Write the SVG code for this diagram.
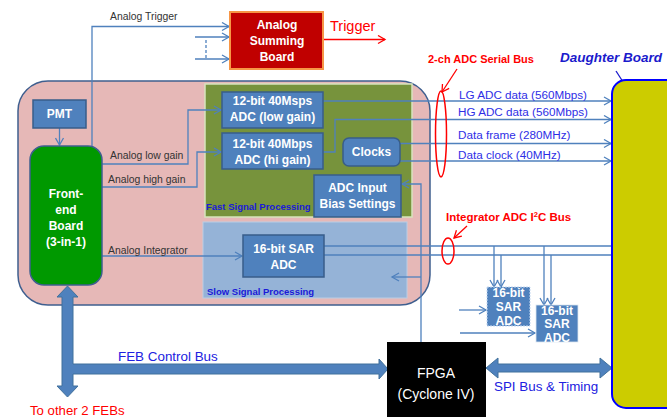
<svg xmlns="http://www.w3.org/2000/svg" width="667" height="417" viewBox="0 0 667 417">
<style>
text{font-family:"Liberation Sans",Arial,sans-serif}
.box{fill:#4f81bd;stroke:#385d8a;stroke-width:1.5}
.bt{fill:#fff;font-weight:bold;font-size:12px;text-anchor:middle}
.ln{fill:none;stroke:#4f81bd;stroke-width:1.3}
.lbl{fill:#333;font-size:10.4px}
.blu{fill:#2e2ee6;font-size:11.7px}
.red{fill:none;stroke:#ff0000;stroke-width:1.5}
.rt{fill:#ff0000}
.bus{fill:#4f81bd;stroke:#41719c;stroke-width:1}
</style>
<defs>
<marker id="a" markerUnits="userSpaceOnUse" markerWidth="10" markerHeight="10" refX="8" refY="5" orient="auto"><path d="M1,1 L8,5 L1,9" fill="none" stroke="#4f81bd" stroke-width="1.3"/></marker>
<marker id="ar" markerUnits="userSpaceOnUse" markerWidth="10" markerHeight="10" refX="8" refY="5" orient="auto"><path d="M1,1 L8,5 L1,9" fill="none" stroke="#ff0000" stroke-width="1.3"/></marker>
<marker id="ab" markerUnits="userSpaceOnUse" markerWidth="10" markerHeight="10" refX="8" refY="5" orient="auto"><path d="M1,1 L8,5 L1,9" fill="none" stroke="#1a1acc" stroke-width="1.3"/></marker>
</defs>

<g id="feb-module">
<rect x="18" y="81" width="412" height="224" rx="30" fill="#e6b8b7" stroke="#3f5f8f" stroke-width="1.5"/>
</g>
<g id="fast-panel">
<rect x="205" y="84" width="207" height="133" fill="#77933c" stroke="#d7e4bd" stroke-width="1.5"/>
<text x="206" y="210.4" font-size="9.5" font-weight="bold" fill="#1a1ad8">Fast Signal Processing</text>
</g>
<g id="slow-panel">
<rect x="203" y="222" width="204" height="76" fill="#95b3d7" stroke="#b9cde5" stroke-width="1"/>
<text x="207" y="295.4" font-size="9.5" font-weight="bold" fill="#1a1ad8">Slow Signal Processing</text>
</g>

<g id="connectors">
<polyline class="ln" points="92,146 92,26.5 229,26.5" marker-end="url(#a)"/>
<line class="ln" x1="195" y1="37" x2="229" y2="37" marker-end="url(#a)"/>
<line class="ln" x1="195" y1="59" x2="229" y2="59" marker-end="url(#a)"/>
<line class="ln" x1="206" y1="40" x2="206" y2="58" stroke-dasharray="3,2"/>
<line x1="323" y1="39.5" x2="385" y2="39.5" stroke="#ff0000" stroke-width="1.3" marker-end="url(#ar)"/>
<line class="ln" x1="59.5" y1="128" x2="59.5" y2="145" marker-end="url(#a)"/>
<polyline class="ln" points="102,164 188,164 188,110 221,110" marker-end="url(#a)"/>
<polyline class="ln" points="102,187 197,187 197,152 221,152" marker-end="url(#a)"/>
<line class="ln" x1="102" y1="256" x2="242" y2="256" marker-end="url(#a)"/>
<line class="ln" x1="323" y1="101" x2="611" y2="101" marker-end="url(#a)"/>
<polyline class="ln" points="323,152 335,152 335,119.5 611,119.5" marker-end="url(#a)"/>
<line class="ln" x1="400" y1="143.5" x2="611" y2="143.5" marker-end="url(#a)"/>
<line class="ln" x1="400" y1="161" x2="611" y2="161" marker-end="url(#a)"/>
<line class="ln" x1="324" y1="246" x2="612" y2="246"/>
<line class="ln" x1="324" y1="255" x2="612" y2="255"/>
<line class="ln" x1="494" y1="246" x2="494" y2="287" marker-end="url(#a)"/>
<line class="ln" x1="501" y1="255" x2="501" y2="287" marker-end="url(#a)"/>
<line class="ln" x1="544" y1="246" x2="544" y2="305" marker-end="url(#a)"/>
<line class="ln" x1="551" y1="255" x2="551" y2="305" marker-end="url(#a)"/>
<line class="ln" x1="459" y1="310" x2="486" y2="310" marker-end="url(#a)"/>
<line class="ln" x1="460" y1="333" x2="535" y2="333" marker-end="url(#a)"/>
<polyline class="ln" points="421,342 421,184 402,184" marker-end="url(#a)"/>
<line class="ln" x1="421" y1="277" x2="392" y2="277" marker-end="url(#a)"/>
<polygon class="bus" points="67.5,286 78,297 73,297 73,364 379,364 379,359 388,369 379,379 379,374 73,374 73,386 78,386 67.5,397 57,386 62,386 62,297 57,297"/>
<polygon class="bus" points="486,368 498,358 498,364 600,364 600,358 612,368 600,378 600,372 498,372 498,378"/>
<line x1="616" y1="71" x2="643" y2="113" stroke="#1a1acc" stroke-width="1.3" marker-end="url(#ab)"/>
<line x1="457" y1="69" x2="442" y2="92" stroke="#ff0000" stroke-width="1.3" marker-end="url(#ar)"/>
<line x1="467" y1="226" x2="454" y2="238" stroke="#ff0000" stroke-width="1.3" marker-end="url(#ar)"/>
<ellipse class="red" cx="441" cy="134" rx="5.5" ry="43"/>
<ellipse class="red" cx="448" cy="251" rx="6" ry="13"/>
<text class="lbl" x="110" y="19.6">Analog Trigger</text>
<text class="lbl" x="110" y="158.6">Analog low gain</text>
<text class="lbl" x="108" y="182.6">Analog high gain</text>
<text class="lbl" x="108" y="253.6">Analog Integrator</text>
<text class="blu" x="459" y="99">LG ADC data (560Mbps)</text>
<text class="blu" x="458" y="116">HG ADC data (560Mbps)</text>
<text class="blu" x="458" y="139">Data frame (280MHz)</text>
<text class="blu" x="458" y="159">Data clock (40MHz)</text>
<text class="rt" x="330" y="31" font-size="14.5">Trigger</text>
<text class="rt" x="428" y="63" font-size="11" font-weight="bold">2-ch ADC Serial Bus</text>
<text class="rt" x="446" y="221" font-size="11.5" font-weight="bold">Integrator ADC I<tspan font-size="7.5" dy="-4">2</tspan><tspan dy="4">C Bus</tspan></text>
<text x="118" y="361" font-size="13.4" fill="#2020e0">FEB Control Bus</text>
<text class="rt" x="30" y="415" font-size="13.2">To other 2 FEBs</text>
<text x="494" y="391" font-size="13.4" fill="#2020e0">SPI Bus &amp; Timing</text>
</g>

<g id="analog-summing-board">
<rect x="230" y="12" width="93" height="57" fill="#c00000" stroke="#f79646" stroke-width="2"/>
<text class="bt" x="277" y="29">Analog</text>
<text class="bt" x="277" y="45">Summing</text>
<text class="bt" x="277" y="61">Board</text>
</g>
<g id="pmt">
<rect class="box" x="33" y="100" width="53" height="28"/>
<text class="bt" x="59.5" y="118">PMT</text>
</g>
<g id="front-end-board">
<rect x="30" y="146" width="72" height="139" rx="14" fill="#009900" stroke="#3f5f8f" stroke-width="1.5"/>
<text class="bt" x="66" y="197.5" font-size="12.5">Front-</text>
<text class="bt" x="66" y="213.5" font-size="12.5">end</text>
<text class="bt" x="66" y="229.5" font-size="12.5">Board</text>
<text class="bt" x="66" y="245.5" font-size="12.5">(3-in-1)</text>
</g>
<g id="adc-low-gain">
<rect class="box" x="222" y="92" width="101" height="36"/>
<text class="bt" x="272.5" y="105.3">12-bit 40Msps</text>
<text class="bt" x="272.5" y="121.3">ADC (low gain)</text>
</g>
<g id="adc-hi-gain">
<rect class="box" x="222" y="133" width="101" height="36"/>
<text class="bt" x="272.5" y="148.3">12-bit 40Mbps</text>
<text class="bt" x="272.5" y="164.3">ADC (hi gain)</text>
</g>
<g id="clocks">
<rect class="box" x="343" y="138" width="57" height="28" rx="6"/>
<text class="bt" x="371.5" y="156.3">Clocks</text>
</g>
<g id="adc-input-bias">
<rect class="box" x="314" y="175" width="87" height="42"/>
<text class="bt" x="357.5" y="192.3">ADC Input</text>
<text class="bt" x="357.5" y="208.3">Bias Settings</text>
</g>
<g id="sar-adc">
<rect class="box" x="243" y="235" width="81" height="42"/>
<text class="bt" x="283.5" y="253.3">16-bit SAR</text>
<text class="bt" x="283.5" y="269.3">ADC</text>
</g>
<g id="sar-adc-1">
<rect x="487" y="287" width="43" height="39" fill="#4f81bd" stroke="#c6d9f1" stroke-width="1" stroke-dasharray="2,1"/>
<text class="bt" x="508.5" y="296.6" font-size="10">16-bit</text>
<text class="bt" x="508.5" y="310.6" font-size="10">SAR</text>
<text class="bt" x="508.5" y="324.6" font-size="10">ADC</text>
</g>
<g id="sar-adc-2">
<rect x="536" y="305" width="42" height="37" fill="#4f81bd" stroke="#dbe5f1" stroke-width="0.8"/>
<text class="bt" x="557" y="314.6" font-size="10">16-bit</text>
<text class="bt" x="557" y="327.6" font-size="10">SAR</text>
<text class="bt" x="557" y="341.6" font-size="10">ADC</text>
</g>
<g id="fpga">
<rect x="387" y="342" width="99" height="80" fill="#000"/>
<text x="436" y="378" font-size="14" fill="#fff" text-anchor="middle">FPGA</text>
<text x="436" y="399" font-size="14" fill="#fff" text-anchor="middle">(Cyclone IV)</text>
</g>
<g id="daughter-board">
<rect x="612" y="80" width="80" height="328" rx="14" fill="#cccc00" stroke="#0000ff" stroke-width="2"/>
<text x="560" y="62" font-size="13.5" font-weight="bold" font-style="italic" fill="#1a1acc">Daughter Board</text>
</g>
</svg>
